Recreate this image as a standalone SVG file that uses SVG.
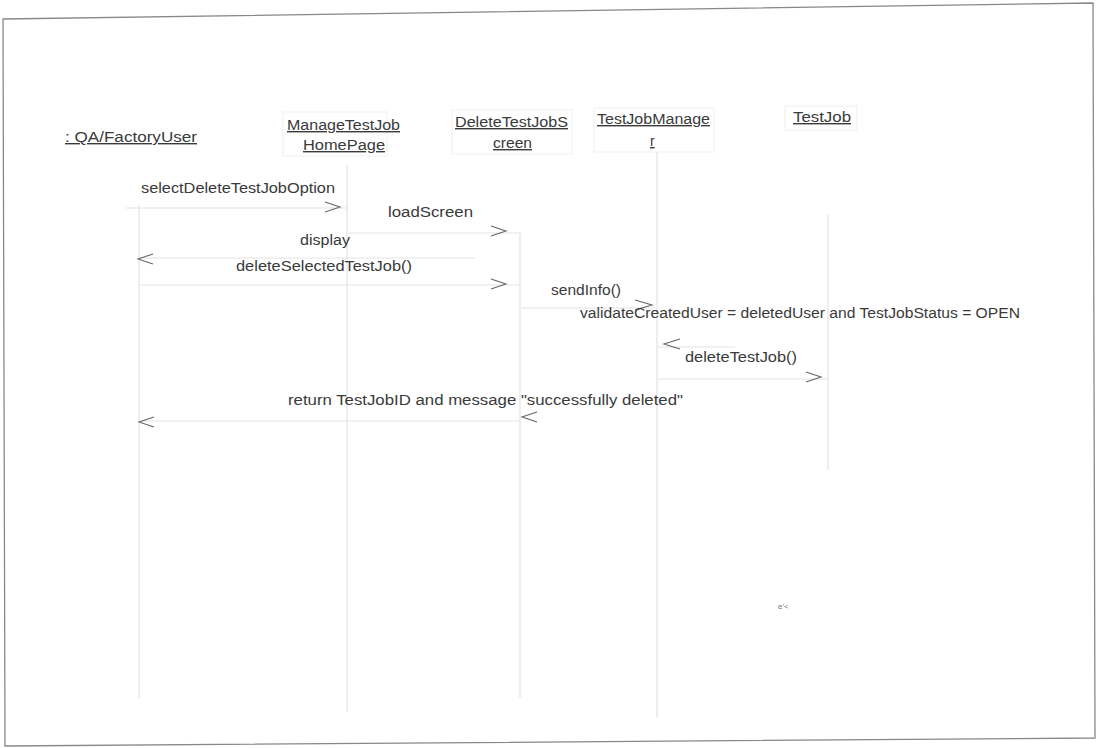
<svg xmlns="http://www.w3.org/2000/svg" width="1102" height="748" viewBox="0 0 1102 748">
<style>
text{font-family:"Liberation Sans",Arial,sans-serif;fill:#3a3a3a;font-size:14px;}
.h{text-decoration:underline;}
.life{stroke:#e2e2e2;stroke-width:1.2;fill:none;}
.msg{stroke:#e4e4e4;stroke-width:1.2;fill:none;}
.box{stroke:#f0f0f0;stroke-width:1;fill:none;}
.ah{stroke:#666;stroke-width:1.1;fill:none;}
</style>
<rect width="1102" height="748" fill="#fff"/>
<polygon points="3,19 1093,3 1095,738 5,746" fill="none" stroke="#888" stroke-width="1.3"/>

<g id="qa">
<text class="h" x="65" y="142" textLength="132" lengthAdjust="spacingAndGlyphs">: QA/FactoryUser</text>
<line class="life" x1="139" y1="205" x2="139" y2="698"/>
</g>
<g id="managehome">
<rect class="box" x="283" y="112" width="104" height="44"/>
<text class="h" x="287" y="130" textLength="113" lengthAdjust="spacingAndGlyphs">ManageTestJob</text>
<text class="h" x="303" y="150" textLength="82" lengthAdjust="spacingAndGlyphs">HomePage</text>
<line class="life" x1="347" y1="165" x2="347" y2="712"/>
</g>
<g id="deletescreen">
<rect class="box" x="452" y="110" width="120" height="44"/>
<text class="h" x="455" y="127" textLength="113" lengthAdjust="spacingAndGlyphs">DeleteTestJobS</text>
<text class="h" x="493" y="148" textLength="39" lengthAdjust="spacingAndGlyphs">creen</text>
<line class="life" x1="520" y1="232" x2="520" y2="698"/>
</g>
<g id="manager">
<rect class="box" x="594" y="108" width="120" height="44"/>
<text class="h" x="597" y="124" textLength="113" lengthAdjust="spacingAndGlyphs">TestJobManage</text>
<text class="h" x="650" y="146">r</text>
<line class="life" x1="657" y1="152" x2="657" y2="717"/>
</g>
<g id="testjob">
<rect class="box" x="785" y="106" width="72" height="24"/>
<text class="h" x="793" y="122" textLength="58" lengthAdjust="spacingAndGlyphs">TestJob</text>
<line class="life" x1="828" y1="215" x2="828" y2="470"/>
</g>

<g id="connectors">
<line class="msg" x1="126" y1="208" x2="346" y2="208"/>
<polyline class="ah" points="325,202 340,207 325,212"/>
<text x="141" y="193" textLength="194" lengthAdjust="spacingAndGlyphs">selectDeleteTestJobOption</text>

<line class="msg" x1="348" y1="233" x2="519" y2="233"/>
<polyline class="ah" points="491,226 506,231 491,236"/>
<text x="388" y="217" textLength="85" lengthAdjust="spacingAndGlyphs">loadScreen</text>

<line class="msg" x1="140" y1="258" x2="475" y2="258"/>
<polyline class="ah" points="153,254 138,259 153,264"/>
<text x="300" y="245" textLength="50" lengthAdjust="spacingAndGlyphs">display</text>

<line class="msg" x1="140" y1="285" x2="519" y2="285"/>
<polyline class="ah" points="491,279 506,284 491,289"/>
<text x="236" y="271" textLength="176" lengthAdjust="spacingAndGlyphs">deleteSelectedTestJob()</text>

<line class="msg" x1="521" y1="308" x2="656" y2="308"/>
<polyline class="ah" points="635,300 652,305 635,310"/>
<text x="551" y="295" textLength="70" lengthAdjust="spacingAndGlyphs">sendInfo()</text>
<text x="580" y="318" textLength="440" lengthAdjust="spacingAndGlyphs">validateCreatedUser = deletedUser and TestJobStatus = OPEN</text>

<line class="msg" x1="658" y1="347" x2="735" y2="347"/>
<polyline class="ah" points="680,339 664,344 680,349"/>
<text x="685" y="362" textLength="112" lengthAdjust="spacingAndGlyphs">deleteTestJob()</text>

<line class="msg" x1="658" y1="379" x2="827" y2="379"/>
<polyline class="ah" points="806,372 821,377 806,382"/>

<line class="msg" x1="140" y1="421" x2="519" y2="421"/>
<polyline class="ah" points="537,412 522,417 537,422"/>
<polyline class="ah" points="154,417 139,422 154,427"/>
<text x="288" y="405" textLength="395" lengthAdjust="spacingAndGlyphs">return TestJobID and message "successfully deleted"</text>
</g>
<text x="778" y="609" style="font-size:8px;fill:#777">e'&lt;</text>
</svg>
